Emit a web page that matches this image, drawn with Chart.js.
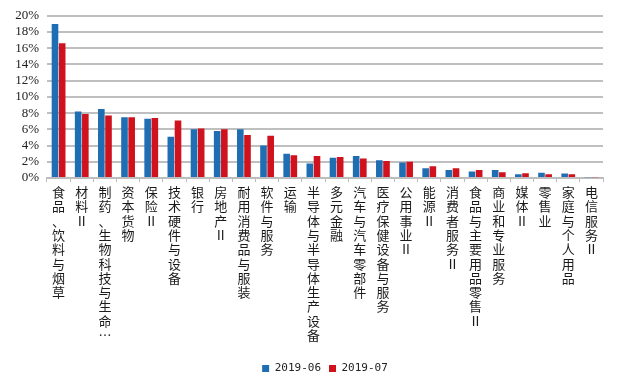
<!DOCTYPE html>
<html>
<head>
<meta charset="utf-8">
<script src="https://cdn.jsdelivr.net/npm/chart.js@4.4.0/dist/chart.umd.min.js"></script>
<style>
  html, body { margin: 0; padding: 0; background: #fff; }
</style>
</head>
<body>
<canvas id="industryChart" width="625" height="385"></canvas>
<script>
// industry categories (labels drawn vertically, one char per line)
const categories = [
    '食品、饮料与烟草', '材料Ⅱ', '制药、生物科技与生命…', '资本货物', '保险Ⅱ',
    '技术硬件与设备', '银行', '房地产Ⅱ', '耐用消费品与服装', '软件与服务',
    '运输', '半导体与半导体生产设备', '多元金融', '汽车与汽车零部件', '医疗保健设备与服务',
    '公用事业Ⅱ', '能源Ⅱ', '消费者服务Ⅱ', '食品与主要用品零售Ⅱ', '商业和专业服务',
    '媒体Ⅱ', '零售业', '家庭与个人用品', '电信服务Ⅱ'
];

// weights in %
const june = [19.0, 8.2, 8.5, 7.5, 7.3, 5.1, 6.0, 5.8, 6.0, 4.0,
    3.0, 1.8, 2.5, 2.7, 2.2, 1.9, 1.2, 1.0, 0.8, 1.0,
    0.45, 0.65, 0.55, 0.08];
const july = [16.6, 7.9, 7.7, 7.5, 7.4, 7.1, 6.1, 6.0, 5.3, 5.2,
    2.8, 2.7, 2.6, 2.4, 2.1, 2.0, 1.45, 1.2, 1.0, 0.7,
    0.6, 0.45, 0.45, 0.1];

const yTicks = [0, 2, 4, 6, 8, 10, 12, 14, 16, 18, 20];

const ctx = document.getElementById('industryChart').getContext('2d');

new Chart(ctx, {
    type: 'bar',
    data: {
        labels: categories,
        datasets: [
            {
                label: '2019-06',
                data: june,
                backgroundColor: '#1f6db3',
                categoryPercentage: 0.62,
                barPercentage: 0.92
            },
            {
                label: '2019-07',
                data: july,
                backgroundColor: '#d0121e',
                categoryPercentage: 0.62,
                barPercentage: 0.92
            }
        ]
    },
    options: {
        responsive: false,
        animation: false,
        layout: {
            padding: { top: 12, right: 22, left: 0, bottom: 1 }
        },
        plugins: {
            tooltip: { enabled: false },
            legend: {
                position: 'bottom',
                fullSize: false,
                labels: {
                    boxWidth: 7,
                    boxHeight: 7,
                    padding: 8,
                    color: '#222',
                    font: { family: '"DejaVu Sans Mono", monospace', size: 11 }
                }
            }
        },
        scales: {
            x: {
                grid: {
                    display: true,
                    drawOnChartArea: false,
                    offset: true,
                    tickLength: 4,
                    color: '#bdbdbd',
                    lineWidth: 1
                },
                border: { color: '#bdbdbd', width: 2 },
                ticks: {
                    autoSkip: false,
                    maxRotation: 0,
                    minRotation: 0,
                    padding: 3,
                    color: '#1a1a1a',
                    font: { family: '"Noto Sans CJK SC", sans-serif', size: 13, lineHeight: 1.1 },
                    callback: (v, i) => categories[i].split('')
                },
                afterFit: (scale) => { scale.height = 177; }
            },
            y: {
                min: 0,
                max: 20,
                afterBuildTicks: (scale) => {
                    scale.ticks = yTicks.map(v => ({ value: v }));
                },
                grid: {
                    color: '#bfbfbf',
                    lineWidth: 2,
                    drawTicks: false
                },
                border: { display: false },
                ticks: {
                    autoSkip: false,
                    padding: 8,
                    color: '#222',
                    font: { family: '"Liberation Serif", serif', size: 13 },
                    callback: (v) => v + '%'
                },
                afterFit: (scale) => { scale.width = 47; }
            }
        }
    }
});
</script>
</body>
</html>
